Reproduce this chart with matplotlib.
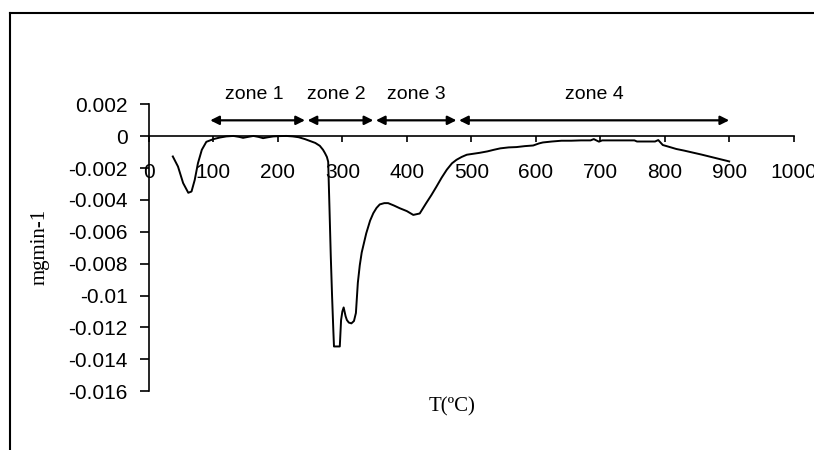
import numpy as np
import matplotlib
matplotlib.use('Agg')
from matplotlib import pyplot as plt
from matplotlib.lines import Line2D

# DTG curve: temperature (degC) and mass loss rate (mg/min)
temp = [37, 45, 53, 61, 66, 71, 76, 82, 89, 100, 110, 120, 131, 140, 146, 155,
        162, 170, 177, 185, 193, 203, 213, 223, 232, 242, 250, 258, 265, 270,
        273, 276, 278, 280, 282, 284, 286, 287, 291, 296, 298, 300, 302, 305,
        307, 310, 314, 318, 321, 324, 327, 330, 337, 343, 348, 353, 358, 365,
        371, 380, 389, 400, 410, 420, 430, 438, 446, 454, 462, 470, 477, 485,
        493, 503, 513, 525, 535, 545, 558, 570, 583, 596, 605, 611, 625, 640,
        655, 670, 685, 690, 694, 698, 703, 720, 740, 753, 757, 770, 785, 790,
        797, 808, 818, 830, 844, 857, 870, 880, 890, 900]
dtg = [-0.00127, -0.0019, -0.00294, -0.00355, -0.00347, -0.00274, -0.00169,
       -0.00085, -0.00035, -0.00018, -0.00008, -0.00001, 0.00002, -0.00004,
       -0.0001, -0.00003, 0.00002, -0.00004, -0.00012, -0.00006, -0.00001, 0.00001,
       0.00002, -0.00001, -0.00006, -0.00018, -0.0003, -0.00042, -0.0006, -0.00085,
       -0.00106, -0.0013, -0.0016, -0.0045, -0.0075, -0.0100, -0.0122, -0.0132,
       -0.0132, -0.0132, -0.01154, -0.0110, -0.01075, -0.0113, -0.01154,
       -0.0117, -0.01175, -0.0116, -0.0111, -0.0092, -0.0081, -0.0073,
       -0.0061, -0.0053, -0.00483, -0.0045, -0.00428, -0.0042, -0.0042,
       -0.00435, -0.00452, -0.0047, -0.00494, -0.00485, -0.0042, -0.0037,
       -0.00316, -0.0026, -0.0021, -0.0017, -0.00148, -0.0013, -0.00116,
       -0.0011, -0.00104, -0.00095, -0.00085, -0.00076, -0.0007, -0.00068,
       -0.00062, -0.00058, -0.00045, -0.00039, -0.00033, -0.00028, -0.00028,
       -0.00026, -0.00026, -0.00018, -0.00026, -0.00034, -0.00026, -0.00026,
       -0.00026, -0.00026, -0.00033, -0.00033, -0.00033, -0.00024, -0.00055,
       -0.00068, -0.0008, -0.0009, -0.00103, -0.00115, -0.00128, -0.00138,
       -0.00148, -0.00158]

# zones: start/end temperature and label
zone_names = ['zone 1', 'zone 2', 'zone 3', 'zone 4']
zone_start = [95, 246, 352, 481]
zone_end = [242, 348, 477, 900]
zone_text_x = [164, 290, 415, 691]

xticks = [0, 100, 200, 300, 400, 500, 600, 700, 800, 900, 1000]
yticks = [-0.016, -0.014, -0.012, -0.01, -0.008, -0.006, -0.004, -0.002, 0, 0.002]
ytick_labels = ['-0.016', '-0.014', '-0.012', '-0.01', '-0.008', '-0.006',
                '-0.004', '-0.002', '0', '0.002']

sans = 'Liberation Sans'
serif = 'Liberation Serif'

fig = plt.figure(figsize=(8.14, 4.5), dpi=100)
ax = fig.add_axes([0.183, 0.131, 0.792, 0.637])

ax.plot(temp, dtg, color='black', lw=1.4)

ax.set_xlim(0, 1000)
ax.set_ylim(-0.016, 0.002)
ax.spines['top'].set_visible(False)
ax.spines['right'].set_visible(False)
ax.spines['bottom'].set_position(('data', 0))
ax.spines['left'].set_linewidth(1.2)
ax.spines['bottom'].set_linewidth(1.2)

ax.set_xticks(xticks)
ax.set_xticklabels([str(v) for v in xticks], fontfamily=sans, fontsize=15)
ax.set_yticks(yticks)
ax.set_yticklabels(ytick_labels, fontfamily=sans, fontsize=15)
ax.tick_params(axis='x', direction='out', length=4, width=1.2, pad=15)
ax.tick_params(axis='y', direction='out', length=6.5, width=1.2, pad=9)

# zone arrows
for name, x0, x1, xt in zip(zone_names, zone_start, zone_end, zone_text_x):
    ax.annotate('', xy=(x1, 0.001), xytext=(x0, 0.001),
                arrowprops=dict(arrowstyle='<|-|>', color='black', lw=1.6,
                                shrinkA=0, shrinkB=0, mutation_scale=13))
    ax.text(xt, 0.0026, name, ha='center', va='center',
            fontfamily=sans, fontsize=14)

fig.text(40/814, 1 - 247/450, 'mgmin-1', rotation=90, ha='center', va='center',
         fontfamily=serif, fontsize=15)
fig.text(452/814, 1 - 407/450, 'T(ºC)', ha='center', va='center',
         fontfamily=serif, fontsize=15)

# frame of the original picture (left and top edges)
fig.add_artist(Line2D([10/814, 1], [1 - 13/450, 1 - 13/450],
                      transform=fig.transFigure, color='black', lw=1.5))
fig.add_artist(Line2D([10/814, 10/814], [0, 1 - 13/450],
                      transform=fig.transFigure, color='black', lw=1.5))

plt.savefig('out.png', dpi=100)
